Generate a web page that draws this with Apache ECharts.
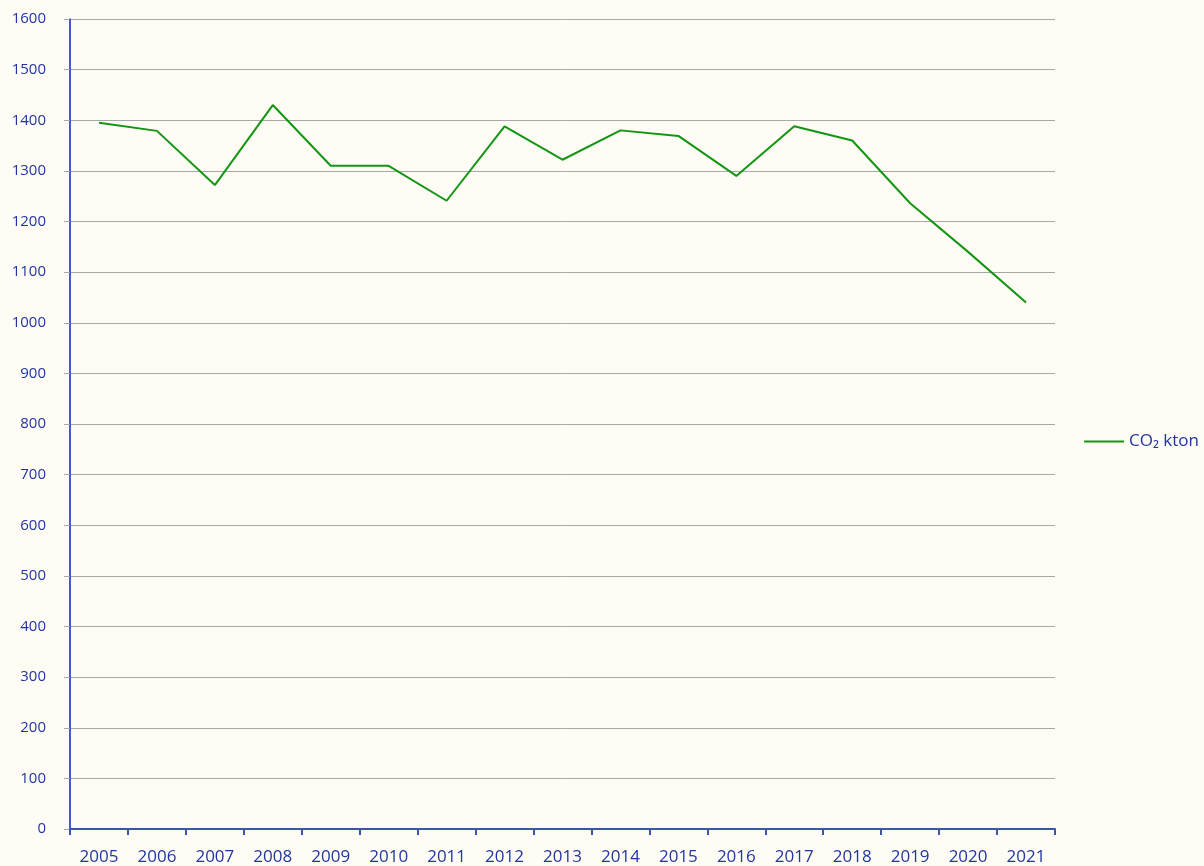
<!DOCTYPE html>
<html><head><meta charset="utf-8">
<script src="https://cdn.jsdelivr.net/npm/echarts@6/dist/echarts.min.js"></script>
<style>html,body{margin:0;padding:0;background:#fffcf5;}#c{width:1204px;height:866px;}</style>
</head><body><div id="c"></div>
<script>
const years = ['2005','2006','2007','2008','2009','2010','2011','2012','2013','2014','2015','2016','2017','2018','2019','2020','2021'];
const co2 = [1395,1379,1272,1430,1310,1310,1241,1388,1322,1380,1369,1290,1388,1360,1236,1140,1040];
const seriesName = 'CO₂ kton';
const chart = echarts.init(document.getElementById('c'));
const font = '"Open Sans", "Noto Sans", sans-serif';
chart.setOption({
  backgroundColor: '#fffcf5',
  animation: false,
  grid: {left: 70, right: 149, top: 19, bottom: 37},
  legend: {
    orient: 'vertical', right: 0, top: 428,
    data: [seriesName],
    itemWidth: 40, itemHeight: 14, itemGap: 5,
    textStyle: {color: '#1f36a0', fontSize: 17, fontFamily: font},
    icon: 'path://M0,6 L40,6 L40,8 L0,8 Z'
  },
  xAxis: {
    type: 'category', data: years, boundaryGap: true,
    axisLine: {lineStyle: {color: '#3b55a8', width: 2}},
    axisTick: {show: true, length: 6, alignWithLabel: false, lineStyle: {color: '#3b55a8', width: 2}},
    axisLabel: {color: '#1f36a0', fontSize: 17, fontFamily: font, margin: 20},
    splitLine: {show: false}
  },
  yAxis: {
    type: 'value', min: 0, max: 1600, interval: 100,
    axisLine: {show: true, lineStyle: {color: '#0a1fc4', width: 1.5}},
    axisTick: {show: true, length: 6, lineStyle: {color: '#a8a8a8'}},
    axisLabel: {color: '#1f36a0', fontSize: 15, fontFamily: font, margin: 24,
      formatter: function (v) { return String(v); }},
    splitLine: {lineStyle: {color: '#a8a8a8', width: 1}}
  },
  series: [{
    name: seriesName, type: 'line', data: co2,
    symbol: 'none', showSymbol: false,
    lineStyle: {color: '#129612', width: 2},
    itemStyle: {color: '#129612'}
  }]
});
</script></body></html>
